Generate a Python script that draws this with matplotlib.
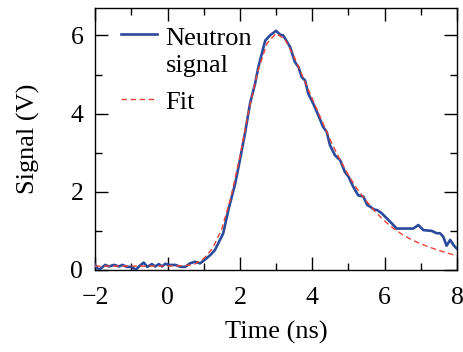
import matplotlib
matplotlib.use("Agg")
import matplotlib.pyplot as plt
from matplotlib.ticker import MultipleLocator
from matplotlib.legend_handler import HandlerLine2D

plt.rcParams['font.family'] = ['Liberation Serif', 'DejaVu Serif']
plt.rcParams['mathtext.fontset'] = 'stix'

# Measured neutron signal (time in ns, signal in V)
sig_t = [-2.0, -1.9, -1.72, -1.62, -1.48, -1.34, -1.25, -1.12, -0.98, -0.88,
         -0.8, -0.66, -0.56, -0.43, -0.34, -0.24, -0.15, -0.06, 0.03, 0.22,
         0.36, 0.49, 0.62, 0.76, 0.9, 1.04, 1.18, 1.31, 1.45, 1.54,
         1.68, 1.87, 2.0, 2.14, 2.28, 2.42, 2.51, 2.7, 2.83, 3.0,
         3.11, 3.2, 3.39, 3.52, 3.62, 3.71, 3.8, 3.89, 4.03, 4.17,
         4.3, 4.4, 4.49, 4.63, 4.77, 4.9, 5.0, 5.13, 5.27, 5.41,
         5.52, 5.6, 5.7, 5.8, 5.92, 6.06, 6.2, 6.33, 6.79, 6.93,
         7.07, 7.3, 7.44, 7.53, 7.62, 7.71, 7.81, 7.9, 7.99]
sig_v = [0.13, 0.0, 0.13, 0.09, 0.13, 0.09, 0.13, 0.08, 0.08, 0.0,
         0.08, 0.19, 0.08, 0.15, 0.09, 0.15, 0.09, 0.16, 0.13, 0.13,
         0.08, 0.08, 0.17, 0.21, 0.17, 0.27, 0.38, 0.51, 0.77, 0.94,
         1.53, 2.21, 2.81, 3.49, 4.26, 4.77, 5.19, 5.87, 6.0, 6.12,
         6.02, 6.0, 5.7, 5.32, 5.19, 4.93, 4.85, 4.51, 4.25, 3.95,
         3.66, 3.53, 3.19, 2.93, 2.81, 2.51, 2.39, 2.13, 1.91, 1.88,
         1.66, 1.62, 1.55, 1.53, 1.45, 1.32, 1.19, 1.06, 1.06, 1.15,
         1.02, 1.0, 0.94, 0.94, 0.85, 0.62, 0.77, 0.64, 0.55]

# Fit curve values
fit_t = [-2.0, -1.5, -1.0, -0.5, 0.0, 0.5, 0.75, 1.0, 1.25, 1.5,
         1.75, 2.0, 2.25, 2.5, 2.75, 3.0, 3.25, 3.5, 3.75, 4.0,
         4.25, 4.5, 4.75, 5.0, 5.25, 5.5, 5.75, 6.0, 6.25, 6.5,
         6.75, 7.0, 7.25, 7.5, 7.75, 8.0]
fit_v = [0.1, 0.1, 0.1, 0.1, 0.1, 0.11, 0.15, 0.29, 0.56, 1.05,
         1.85, 2.9, 4.1, 5.1, 5.8, 6.05, 5.9, 5.45, 4.92, 4.38,
         3.85, 3.32, 2.85, 2.42, 2.06, 1.76, 1.48, 1.25, 1.06, 0.9,
         0.77, 0.67, 0.58, 0.5, 0.43, 0.36]


class TopLineHandler(HandlerLine2D):
    """Places the legend line next to the first text line."""
    def __init__(self, shift=0.0, **kw):
        super().__init__(**kw)
        self.shift = shift

    def create_artists(self, legend, orig_handle, xdescent, ydescent,
                       width, height, fontsize, trans):
        arts = super().create_artists(legend, orig_handle, xdescent, ydescent,
                                      width, height, fontsize, trans)
        for a in arts:
            a.set_ydata([y + self.shift for y in a.get_ydata()])
        return arts


fig = plt.figure(figsize=(4.64, 3.52), dpi=100)
ax = fig.add_axes([0.205, 0.233, 0.78, 0.744])

l1, = ax.plot(sig_t, sig_v, color='#2b4a9b', lw=1.9, label='Neutron\nsignal', zorder=3)
l2, = ax.plot(fit_t, fit_v, color='#e8443a', lw=1.0, ls=(0, (4, 2.5)), label='Fit', zorder=4)

ax.set_xlim(-2, 8)
ax.set_ylim(0, 6.7)
ax.xaxis.set_major_locator(MultipleLocator(2))
ax.xaxis.set_minor_locator(MultipleLocator(1))
ax.yaxis.set_major_locator(MultipleLocator(2))
ax.yaxis.set_minor_locator(MultipleLocator(1))
ax.tick_params(which='both', direction='in', top=True, right=True, width=1.0, labelsize=18.5)
ax.tick_params(which='major', length=9.4)
ax.tick_params(which='minor', length=5)
ax.tick_params(axis='x', which='major', pad=12)
ax.tick_params(axis='y', which='major', pad=8.5)
for s in ax.spines.values():
    s.set_linewidth(1.0)

ax.set_xlabel('Time (ns)', fontsize=19, labelpad=9)
ax.set_ylabel('Signal (V)', fontsize=19, labelpad=22)

leg = ax.legend(handles=[l1, l2], loc='upper left', frameon=False, fontsize=19,
                handlelength=1.4, handletextpad=0.3, labelspacing=0.5,
                borderaxespad=0.0, bbox_to_anchor=(0.041, 0.965),
                handler_map={l1: TopLineHandler(shift=13.0)})
for t in leg.get_texts():
    t.set_linespacing(1.3)

fig.savefig('out.png', dpi=100)
